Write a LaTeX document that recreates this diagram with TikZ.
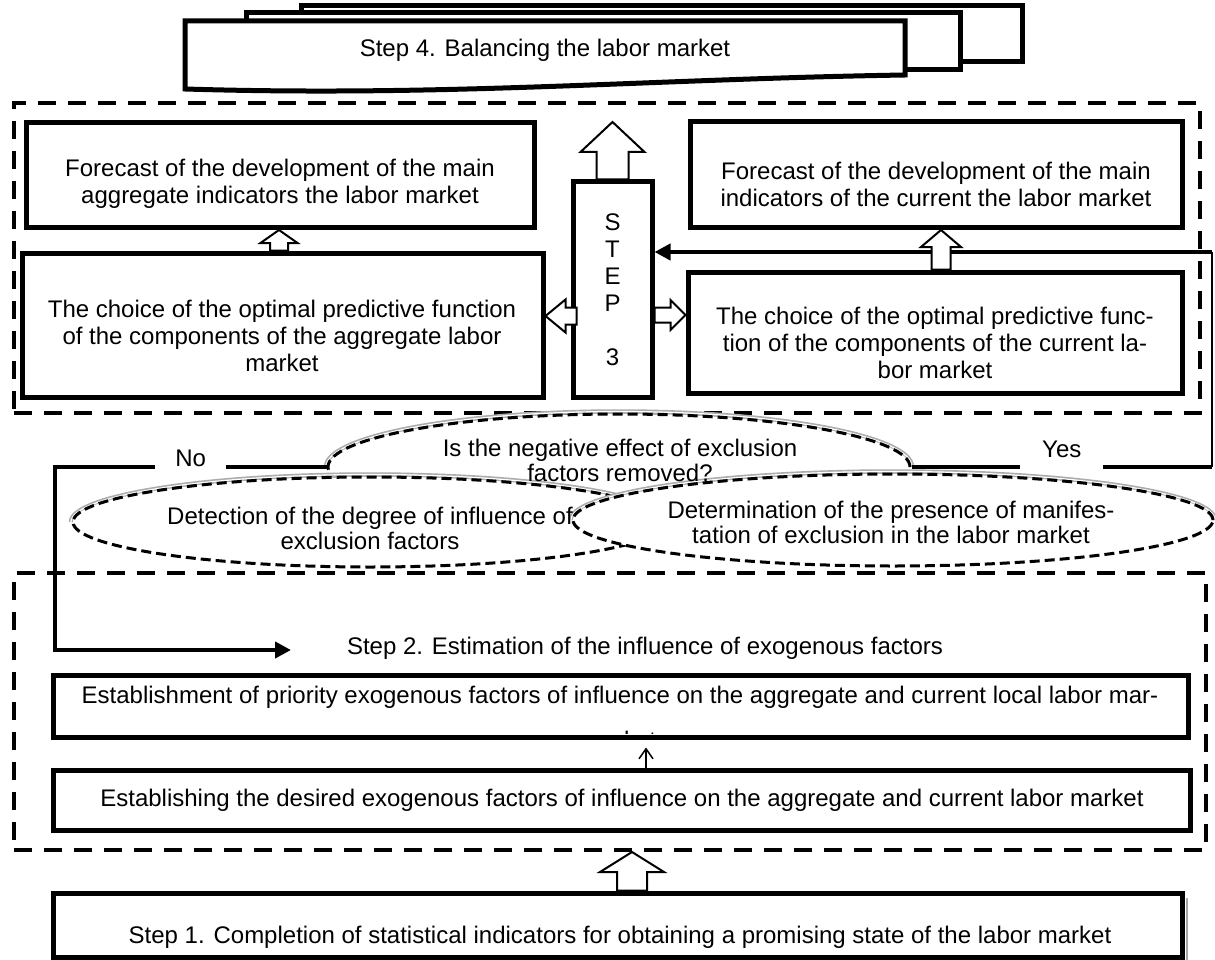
\documentclass[tikz,border=0pt]{standalone}
\usepackage{fontspec}
\setmainfont{Liberation Sans}
\usetikzlibrary{calc,arrows.meta,shapes.geometric}
\newcommand{\blockarr}[5]{%
  \path ($(#2)!#5!(#1)$) coordinate (bah);
  \draw[barr] ($(#1)!#3!90:(#2)$) -- ($(bah)!#3!90:(#2)$) -- ($(bah)!#4!90:(#2)$) -- (#2)
     -- ($(bah)!#4!-90:(#2)$) -- ($(bah)!#3!-90:(#2)$) -- ($(#1)!#3!-90:(#2)$) -- cycle;}
\begin{document}
\begin{tikzpicture}[x=1pt,y=-1pt,
  box/.style={draw,line width=5pt,fill=white,inner sep=0pt,rectangle},
  txt/.style={font=\fontsize{24}{27}\selectfont,align=center,inner sep=0pt},
  etxt/.style={font=\fontsize{24}{25}\selectfont,align=center,inner sep=0pt},
  frm/.style={draw,line width=4pt,dash pattern=on 18pt off 12pt,inner sep=0pt},
  barr/.style={draw,line width=2pt,fill=white,line join=miter},
  conn/.style={line width=4.5pt,line join=miter},
  ell/.style={draw,ellipse,line width=3pt,dash pattern=on 10pt off 5pt,fill=white,inner sep=0pt},
  band/.style={line width=4.5pt,draw=gray!65},
  bandin/.style={line width=1.2pt,draw=white},
  tri/.style={-{Triangle[length=16pt,width=16pt]}},
  layer/.style={draw,line width=5pt,fill=white,line join=miter}
]
\useasboundingbox (0,0) rectangle (1215,960);

% group frames
\node[frm, minimum width=1186pt, minimum height=310pt] (grp3) at (607,258) {};
\node[frm, minimum width=1192pt, minimum height=277pt] (grp2) at (610,711.5) {};

% Step 4 stacked documents
\path[layer] (301,6) rectangle (1022,62);
\path[layer] (246,13) rectangle (960,70);
\path[layer] (185,21) -- (905,21) -- (905,75) .. controls (650,79) and (450,97) .. (185,89) -- cycle;
\node[txt] (s4) at (545,50) {Step 4. Balancing the labor market};

% Step 3 boxes
\node[box, minimum width=508pt, minimum height=104pt] (fc1) at (280,175) {};
\node[box, minimum width=521pt, minimum height=144pt] (ch1) at (282.5,325) {};
\node[box, minimum width=79pt, minimum height=215pt] (step3) at (612.5,289.5) {};
\node[box, minimum width=492pt, minimum height=105pt] (fc2) at (936,174.5) {};
\node[box, minimum width=494pt, minimum height=121pt] (ch2) at (935,332.5) {};

\node[txt] (fc1t) at (280,184) {Forecast of the development of the main\\aggregate indicators the labor market};
\node[txt] (ch1t) at (282,336) {The choice of the optimal predictive function\\of the components of the aggregate labor\\market};
\node[txt] (fc2t) at (936,184) {Forecast of the development of the main\\indicators of the current the labor market};
\node[txt] (ch2t) at (935,343) {The choice of the optimal predictive func-\\tion of the components of the current la-\\bor market};
\node[txt] (st3t) at (612.5,290) {S\\T\\E\\P\\[27pt]3};

% Yes feedback (vertical and top part)
\coordinate (ycor) at (1212,467);
\coordinate (ytop) at (1212,252);
\draw[line width=2.5pt] (ycor) -- (ytop);
\draw[conn,tri] (ytop) -- (step3.east |- ytop);

% hollow block arrows in step 3
\coordinate (a1t) at (279,230);
\coordinate (a1s) at (ch1.north -| a1t);
\blockarr{a1s}{a1t}{9pt}{18.5pt}{13pt}
\coordinate (a2t) at (612.5,122);
\blockarr{step3.north}{a2t}{16pt}{32pt}{30pt}
\coordinate (a3s) at ([xshift=6pt]step3.west |- 0,316);
\coordinate (a3t) at (ch1.east |- a3s);
\blockarr{a3s}{a3t}{8.5pt}{16.5pt}{20pt}
\coordinate (a4s) at (step3.east |- 0,315);
\coordinate (a4t) at (ch2.west |- a4s);
\blockarr{a4s}{a4t}{7.5pt}{15pt}{15pt}
\coordinate (a5t) at (941,230);
\coordinate (a5s) at (ch2.north -| a5t);
\blockarr{a5s}{a5t}{9.5pt}{20pt}{17pt}

% ellipses
\draw[band] (326,467) arc[start angle=180,end angle=0,x radius=293pt,y radius=55.5pt];
\draw[bandin] (326,467) arc[start angle=180,end angle=0,x radius=293pt,y radius=55.5pt];
\node[ell, minimum width=582pt, minimum height=106pt] (q) at (619,467) {};
\draw[band] (71,522) arc[start angle=180,end angle=0,x radius=299pt,y radius=47.5pt];
\draw[bandin] (71,522) arc[start angle=180,end angle=0,x radius=299pt,y radius=47.5pt];
\node[ell, minimum width=594pt, minimum height=90pt] (det) at (370,522) {};
\draw[band] (571,520) arc[start angle=180,end angle=0,x radius=322pt,y radius=48.5pt];
\draw[bandin] (571,520) arc[start angle=180,end angle=0,x radius=322pt,y radius=48.5pt];
\node[ell, minimum width=640pt, minimum height=92pt] (dtm) at (893,520) {};

\node[etxt] (qt) at (620,460) {Is the negative effect of exclusion\\factors removed?};
\node[etxt] (dett) at (370,528) {Detection of the degree of influence of\\exclusion factors};
\node[etxt] (dtmt) at (891,522) {Determination of the presence of manifes-\\tation of exclusion in the labor market};

% Yes / No connectors
\draw[conn] (q.east) -- node[txt,fill=white,inner xsep=22pt,inner ysep=12pt,yshift=18pt]{Yes} (q.east -| ycor);
\coordinate (nox) at (55,650);
\coordinate (noend) at (291,650);
\draw[conn,tri] (q.west) -- node[txt,fill=white,inner xsep=20pt,inner ysep=6pt,yshift=9pt]{No} (q.west -| nox) -- (nox) -- (noend);

% Step 2
\node[txt] (s2) at (645,648) {Step 2. Estimation of the influence of exogenous factors};
\node[box, minimum width=1135pt, minimum height=62pt] (est1) at (620.5,706) {};
\node[txt] (est1t) at (620,697) {Establishment of priority exogenous factors of influence on the aggregate and current local labor mar-};
\begin{scope}
  \clip (56,679) rectangle (1185,733.5);
  \node[txt, anchor=base] (est1k) at (640,748) {ket};
\end{scope}
\node[box, minimum width=1137pt, minimum height=60pt] (est2) at (621.5,800) {};
\node[txt] (est2t) at (622,800) {Establishing the desired exogenous factors of influence on the aggregate and current labor market};
\coordinate (ta) at (646,0);
\draw[line width=1.5pt,-{Straight Barb[length=10pt,width=14pt]},shorten >=8pt] (est2.north -| ta) -- (est1.south -| ta);

% Step 1
\draw[gray!70, line width=2.5pt] (1187,898) -- (1187,960);
\node[box, minimum width=1129pt, minimum height=64pt] (s1) at (617.5,925) {};
\node[txt] (s1t) at (620,937) {Step 1. Completion of statistical indicators for obtaining a promising state of the labor market};
\coordinate (a6t) at (632,852);
\coordinate (a6s) at (s1.north -| a6t);
\blockarr{a6s}{a6t}{15pt}{32pt}{20pt}
\end{tikzpicture}
\end{document}
